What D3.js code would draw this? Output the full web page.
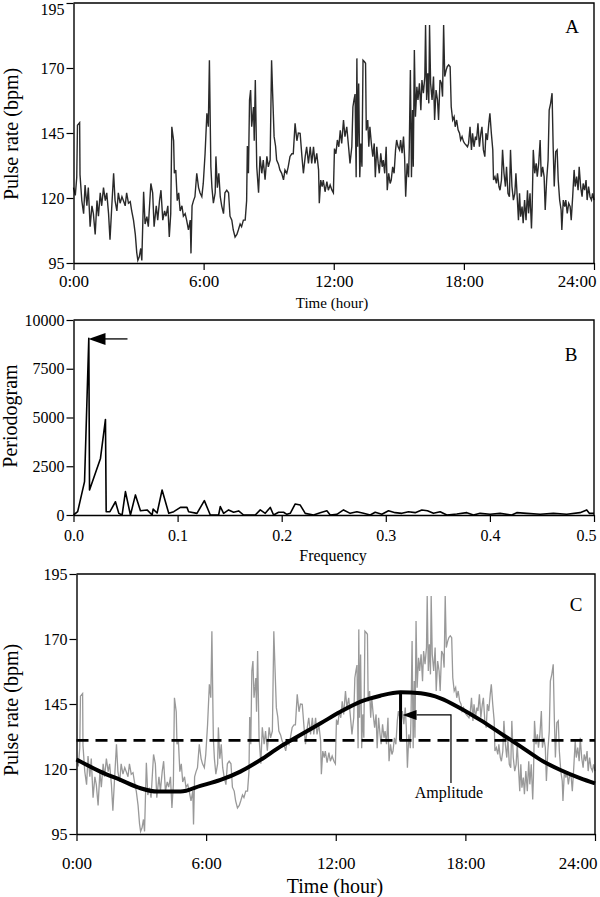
<!DOCTYPE html>
<html>
<head>
<meta charset="utf-8">
<script src="https://cdn.jsdelivr.net/npm/d3@7"></script>
<style>
  body { margin: 0; background: #fff; }
  svg { display: block; font-family: "Liberation Serif", "Times New Roman", serif; }
</style>
</head>
<body>
<div id="chart"></div>
<script>
// pulse rate recording: minutes after 0:00 and bpm
var minutes = [0,5,9,11,17,18,23,28,32,37,41,46,51,55,60,65,69,74,78,83,88,92,97,101,106,111,115,120,124,129,
  134,138,143,147,152,157,161,166,171,175,178,182,186,189,194,198,203,207,214,219,223,229,233,238,242,247,252,256,261,265,
  269,272,277,279,283,287,291,295,300,304,309,313,318,323,325,328,332,336,341,346,350,355,359,364,369,373,376,380,383,387,
  392,394,398,402,406,410,415,419,424,429,433,438,442,447,452,456,461,465,470,475,479,481,484,487,490,493,498,500,503,507,
  512,516,521,525,530,535,539,544,548,551,555,559,562,567,571,576,581,585,590,594,599,604,608,613,618,622,
  627,632,636,641,645,650,655,659,664,668,673,678,680,684,688,691,696,701,705,710,715,719,722,726,730,734,738,742,747,751,
  756,761,765,770,773,776,779,782,784,786,789,792,795,798,801,805,808,810,814,817,820,824,828,832,835,839,843,846,850,854,
  857,861,865,868,872,876,879,883,887,891,894,898,902,905,909,913,916,919,923,927,929,932,935,938,940,943,946,950,953,957,
  961,964,968,972,974,977,980,983,985,988,992,996,999,1003,1007,1010,1014,1018,1021,1024,1027,1031,1034,1038,1042,1045,1049,1053,1056,1060,
  1064,1068,1071,1075,1079,1082,1086,1090,1093,1097,1101,1104,1108,1112,1115,1119,1123,1127,1130,1134,1138,1141,1145,1149,1152,1156,1160,1162,1166,1170,
  1173,1177,1180,1184,1187,1191,1195,1198,1202,1206,1209,1213,1217,1221,1224,1228,1231,1234,1237,1241,1244,1248,1252,1256,1259,1263,1267,1269,1272,1276,
  1280,1283,1287,1291,1294,1298,1302,1305,1309,1313,1316,1320,1324,1327,1330,1334,1338,1341,1345,1349,1351,1355,1359,1362,1366,1370,1374,1377,1381,1385,
  1388,1392,1396,1399,1403,1407,1410,1414,1418,1421,1425,1429,1433,1436,1440];
var pulse = [124,121,128,148,149,129,119,114,125,117,124,109,117,114,106,119,113,122,117,124,119,122,114,104,117,129.5,119,115,122,118,
  120.5,119,117,122,118,118.6,115,111.5,106,99,96,97.4,100.6,96,122.4,110,112.8,109,125.6,122,109,117,111.5,119,123,111.5,115,113,117,105,
  114,147.4,142,129.5,130.8,119,122,115,117,113,114,111.5,107.7,111.5,98.7,117,119,120.5,129.5,124,122,120.5,125.6,137,152.6,147.4,173,132,124,118,
  122,136,124,129.5,120.5,117,114,122,123,122,113,111.5,107.7,105,106,107.7,110,109,111.5,111.5,119,140,129.5,157.7,161.5,147.4,155,142,165.4,132,
  122,136,129.5,134.6,127,136,132,134.6,173,160,143.6,140,134.6,133,130.8,129.5,127,130.8,129.5,132,136,137,137,148.7,142,145,
  144.9,135.9,129.5,135.9,139.7,133.3,139.7,133.3,139.7,133.3,137.2,130.8,118,126.9,124.4,126.9,122.4,126.3,123,125,123,122,139,137,142.3,139.7,146,141,150,143.6,
  147.4,139.7,133.3,139.7,155,157.7,160,128,173.7,139.7,164,128,141,132,173,172.4,171.8,146,150,139.7,147.4,141,135.9,141,128,139.7,133.3,129.5,137.2,132,
  134.6,129.5,139.7,123,129.5,125.6,126.9,132,129.5,138.5,142.3,139.7,138.5,142.3,137.2,143.6,135.9,120.5,133.3,128,139.7,169.2,128,153.8,132,176.9,151.3,162.8,157.7,164.1,
  153.8,165.4,160.3,166.7,186.5,157.7,168,156.4,186.5,164.1,157.7,166.7,150,161.5,157.7,150,165.4,164.1,159,186.5,166.7,169.2,170.5,171.2,170.5,155.1,150,151.3,147.4,150,
  146.2,144.9,142.3,143.6,141.7,141,140.4,139.7,141,147.4,138.5,144.9,139.7,143.6,142.3,148.7,139.7,144.9,147.4,138.5,135.9,144.9,142.3,148.7,152.6,144.9,138.5,126.9,128.2,125.6,
  129.5,124.4,123,126.9,138.5,129.5,124.4,132,121.8,120.5,138.5,124.4,119.2,121.8,129.5,119.2,111.5,121.8,112.8,116.7,110.3,119.2,111.5,123,114.1,121.8,108.3,116.7,138.5,129.5,
  133.3,128.2,133.3,142.3,128.2,132,128.2,115.4,126.9,134.6,153.8,156.4,160.3,139.7,124.4,137.8,138.5,126.9,119.2,115.4,107.7,119.2,116.7,119.2,114.1,118,116.7,111.5,120.5,130.8,
  124.4,128.2,123,132,124.4,120.5,125.6,123,126.9,119.2,124.4,120.5,119.2,121.8,119.2];

// periodogram of the recording
var freq = [0,0.004,0.0106,0.0147,0.0154,0.0259,0.0307,0.0314,0.035,0.0403,0.0435,0.0467,0.0499,0.0547,0.0595,0.0643,0.0707,0.0755,0.0765,0.0803,
  0.0851,0.0915,0.0963,0.1027,0.109,0.1106,0.1186,0.1257,0.1314,0.1394,0.141,0.1442,0.149,0.1538,0.1586,0.1634,0.1746,0.1794,0.1842,0.189,
  0.1922,0.197,0.2018,0.205,0.2082,0.213,0.2178,0.2226,0.2306,0.237,0.2434,0.2466,0.253,0.2594,0.2658,0.2722,0.2786,0.285,0.2898,0.2962,
  0.3026,0.309,0.3154,0.3218,0.3282,0.3346,0.34,0.3458,0.3522,0.3586,0.3682,0.3778,0.3842,0.3906,0.4002,0.4098,0.421,0.4258,0.4354,0.4482,
  0.461,0.4738,0.4866,0.493,0.4955,0.5];
var power = [0,170,1710,9060,1280,2900,4900,170,170,680,85,0,1200,0,1030,220,260,0,300,100,
  1280,85,170,390,390,170,85,735,0,0,430,85,260,140,210,0,0,260,85,390,
  0,140,140,35,85,565,510,85,0,120,220,0,35,260,85,170,85,0,140,35,
  220,120,85,170,120,260,220,85,170,0,50,120,0,85,35,85,0,120,85,35,
  85,35,120,260,85,85];
var peakFreq = 0.0144, peakPower = 9030;

// cosinor fit, mesor and peak
var fitMinutes = [0,66,122,178,224,289,344,400,455,511,566,613,678,733,789,844,900,956,1011,1067,1122,1178,1234,1289,1344,1400,1440];
var fitPulse = [123.7,119,115.8,112.6,111.3,111.3,113.5,115.8,119,123.5,128.6,132.4,137.6,142,145.9,148.2,149.5,149.1,147.2,143.3,138.8,133.7,128.6,123.5,119.6,116.4,114.5];
var mesor = 131;
var acrophase = 900, peakPulse = 149.5;

var hourTicks = [0, 360, 720, 1080, 1440];
var pulseTicks = [95, 120, 145, 170, 195];
var powerTicks = [0, 2500, 5000, 7500, 10000];
var freqTicks = [0, 0.1, 0.2, 0.3, 0.4, 0.5];
var hourFormat = function(d) { return (d / 60) + ":00"; };

var width = 600, height = 897;

var svg = d3.select("#chart")
  .append("svg")
    .attr("width", width)
    .attr("height", height);

svg.append("rect").attr("width", width).attr("height", height).attr("fill", "#fff");

// draws left/bottom axes plus the top/right frame
function drawFrame(x, y, o) {
  var g = svg.append("g");
  var x0 = x.range()[0], x1 = x.range()[1], y0 = y.range()[0], y1 = y.range()[1];

  g.append("path")
    .attr("d", "M" + x0 + "," + y1 + "H" + x1 + "V" + y0)
    .attr("fill", "none")
    .attr("stroke", "#000")
    .attr("stroke-width", 1.4);

  var xa = g.append("g")
    .attr("transform", "translate(0," + y0 + ")")
    .call(d3.axisBottom(x).tickValues(o.xTicks).tickFormat(o.xFormat)
      .tickSize(7).tickSizeOuter(0).tickPadding(o.xPad));
  xa.attr("font-family", null).attr("font-size", o.xFont);
  // last label sits inside the right edge, as in the print
  xa.selectAll(".tick text")
    .filter(function(d, i, n) { return i === n.length - 1; })
    .attr("text-anchor", "end")
    .attr("x", 2);

  var ya = g.append("g")
    .attr("transform", "translate(" + x0 + ",0)")
    .call(d3.axisLeft(y).tickValues(o.yTicks).tickFormat(d3.format("d"))
      .tickSize(7).tickSizeOuter(0).tickPadding(2));
  ya.attr("font-family", null).attr("font-size", o.yFont);
  // keep the top label from running off the page
  if (y1 < 10) {
    ya.selectAll(".tick text")
      .filter(function(d, i, n) { return i === n.length - 1; })
      .attr("dy", "0.7em");
  }

  g.selectAll(".domain").attr("stroke-width", 1.4);
  g.selectAll(".tick line").attr("stroke-width", 1.2);
  g.selectAll(".tick text").attr("fill", "#000");
  return g;
}

function label(txt, x, y, size, rotate) {
  var t = svg.append("text")
    .attr("text-anchor", "middle")
    .attr("font-size", size)
    .text(txt);
  if (rotate) t.attr("transform", "translate(" + x + "," + y + ") rotate(-90)");
  else t.attr("x", x).attr("y", y);
  return t;
}

// ---- panel A ----
var xA = d3.scaleLinear().domain([0, 1440]).range([73.5, 594]);
var yA = d3.scaleLinear().domain([95, 195]).range([263, 3]);

svg.append("path")
  .datum(minutes)
  .attr("fill", "none")
  .attr("stroke", "#2a2a2a")
  .attr("stroke-width", 1.4)
  .attr("d", d3.line()
    .x(function(d) { return xA(d); })
    .y(function(d, i) { return yA(pulse[i]); }));

drawFrame(xA, yA, {xTicks: hourTicks, xFormat: hourFormat, xPad: 5, xFont: 17, yTicks: pulseTicks, yFont: 16});
label("Time (hour)", 332, 308, 15);
label("Pulse rate (bpm)", 18, 134, 20, true);
label("A", 572, 33, 19);

// ---- panel B ----
var xB = d3.scaleLinear().domain([0, 0.5]).range([73.5, 594]);
var yB = d3.scaleLinear().domain([0, 10000]).range([515, 320]);

svg.append("path")
  .datum(freq)
  .attr("fill", "none")
  .attr("stroke", "#000")
  .attr("stroke-width", 1.6)
  .attr("stroke-linejoin", "round")
  .attr("d", d3.line()
    .x(function(d) { return xB(d); })
    .y(function(d, i) { return yB(power[i]); }));

drawFrame(xB, yB, {xTicks: freqTicks, xFormat: d3.format(".1f"), xPad: 8, xFont: 16, yTicks: powerTicks, yFont: 16});
label("Frequency", 333, 561, 16);
label("Periodogram", 17, 416, 20, true);
label("B", 571, 361, 19);

// arrow pointing at the main peak
var tipX = xB(peakFreq), tipY = yB(peakPower);
svg.append("line")
  .attr("x1", tipX + 16).attr("x2", tipX + 39)
  .attr("y1", tipY).attr("y2", tipY)
  .attr("stroke", "#000").attr("stroke-width", 1.3);
svg.append("path")
  .attr("d", "M" + tipX + "," + tipY + "l17,-6v12z")
  .attr("fill", "#000");

// ---- panel C ----
var xC = d3.scaleLinear().domain([0, 1440]).range([76.5, 595]);
var yC = d3.scaleLinear().domain([95, 195]).range([834, 574]);

svg.append("path")
  .datum(minutes)
  .attr("fill", "none")
  .attr("stroke", "#999")
  .attr("stroke-width", 1.3)
  .attr("d", d3.line()
    .x(function(d) { return xC(d); })
    .y(function(d, i) { return yC(pulse[i]); }));

svg.append("line")
  .attr("x1", xC(0)).attr("x2", xC(1440))
  .attr("y1", yC(mesor)).attr("y2", yC(mesor))
  .attr("stroke", "#000")
  .attr("stroke-width", 2.6)
  .attr("stroke-dasharray", "12,7");

svg.append("path")
  .datum(fitMinutes)
  .attr("fill", "none")
  .attr("stroke", "#000")
  .attr("stroke-width", 4)
  .attr("d", d3.line()
    .curve(d3.curveMonotoneX)
    .x(function(d) { return xC(d); })
    .y(function(d, i) { return yC(fitPulse[i]); }));

svg.append("line")
  .attr("x1", xC(acrophase)).attr("x2", xC(acrophase))
  .attr("y1", yC(mesor)).attr("y2", yC(peakPulse))
  .attr("stroke", "#000")
  .attr("stroke-width", 3);

// amplitude pointer
var ax = xC(acrophase) + 2, ay = yC(140.8), bendX = xC(1040), endY = yC(114.6);
svg.append("path")
  .attr("d", "M" + (ax + 14) + "," + ay + "H" + bendX + "V" + endY)
  .attr("fill", "none")
  .attr("stroke", "#000")
  .attr("stroke-width", 1.2);
svg.append("path")
  .attr("d", "M" + ax + "," + ay + "l14,-5v10z")
  .attr("fill", "#000");
label("Amplitude", bendX - 2, yC(108.7), 16);

drawFrame(xC, yC, {xTicks: hourTicks, xFormat: hourFormat, xPad: 16, xFont: 17, yTicks: pulseTicks, yFont: 16});
label("Time (hour)", 335, 893, 20);
label("Pulse rate (bpm)", 18, 710, 20, true);
label("C", 576, 611, 19);
</script>
</body>
</html>
